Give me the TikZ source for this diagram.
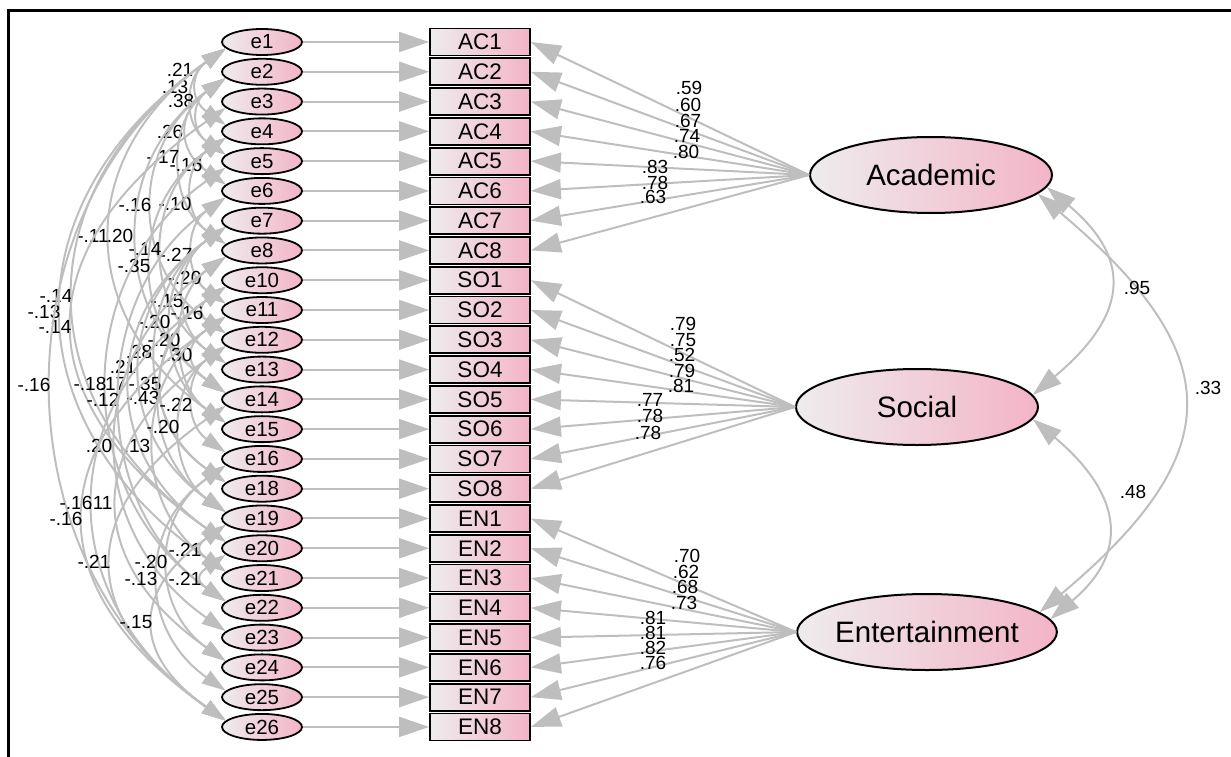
\documentclass[tikz,border=0pt]{standalone}
\usepackage{fontspec}
\setmainfont{Liberation Sans}
\usetikzlibrary{arrows.meta,shapes.geometric}

\definecolor{lnk}{RGB}{190,190,190}
\definecolor{pinkR}{RGB}{243,180,199}
\definecolor{greyL}{RGB}{238,236,237}

\tikzset{
  errnode/.style={ellipse, draw=black, line width=1.8pt, minimum width=80pt,
    minimum height=26pt, inner sep=0pt, left color=greyL, right color=pinkR,
    font=\fontsize{20.5}{20.5}\selectfont},
  obsbox/.style={rectangle, draw=black, line width=1.8pt, minimum width=100pt,
    minimum height=27pt, inner sep=0pt, left color=greyL, right color=pinkR,
    font=\fontsize{22.5}{22.5}\selectfont},
  latent/.style={ellipse, draw=black, line width=2pt, minimum width=242pt,
    minimum height=76pt, inner sep=0pt, left color=greyL, right color=pinkR,
    font=\fontsize{29.5}{29.5}\selectfont},
  regline/.style={draw=lnk, line width=2pt, -{Triangle[length=30pt,width=20pt]}},
  cov/.style={draw=lnk, line width=2pt,
    {Triangle[length=24pt,width=15pt]}-{Triangle[length=24pt,width=15pt]}},
  latcov/.style={draw=lnk, line width=2pt,
    {Triangle[length=29pt,width=19pt]}-{Triangle[length=29pt,width=19pt]}},
  clab/.style={font=\fontsize{19}{19}\selectfont, inner sep=0pt},
}

% covariance between error terms #1 (upper) and #2 (lower),
% with its estimate #5 printed at (#3,#4)
\newcommand\covarc[5]{%
  \pgfmathsetmacro\lsn{(207-#3)/(0.2405*(29.78*(#2-#1)-12.4))}%
  \draw[cov] (k#1.190) to[out=215,in=145,looseness=\lsn] (k#2.170);
  \node[clab] at (#3,-#4) {#5};
}

\begin{document}
\begin{tikzpicture}[x=1pt,y=1pt]
\useasboundingbox (0,0) rectangle (1231,-757);

% frame
\draw[line width=3pt] (8,-760) -- (8,-11) -- (1235,-11);

% error terms and indicators
\foreach \lab [count=\i from 0] in {1,2,3,4,5,6,7,8,10,11,12,13,14,15,16,18,19,20,21,22,23,24,25,26} {
  \node[errnode] (k\i) at (262,{-(42+29.78*\i)}) {e\lab};
}
\foreach \lab [count=\i from 0] in {AC1,AC2,AC3,AC4,AC5,AC6,AC7,AC8,SO1,SO2,SO3,SO4,SO5,SO6,SO7,SO8,EN1,EN2,EN3,EN4,EN5,EN6,EN7,EN8} {
  \node[obsbox] (b\i) at (480,{-(42+29.78*\i)}) {\lab};
  \draw[regline] (k\i.east) -- (b\i.west);
}

% latent factors
\node[latent] (acad) at (931,-175) {Academic};
\node[latent] (soc) at (917,-407) {Social};
\node[latent] (ent) at (927,-632) {Entertainment};

% loadings
\foreach \i in {0,...,7} { \draw[regline] (acad.west) -- (b\i.east); }
\foreach \i in {8,...,15} { \draw[regline] (soc.west) -- (b\i.east); }
\foreach \i in {16,...,23} { \draw[regline] (ent.west) -- (b\i.east); }

\foreach \x/\y/\t in {689/88/.59, 688/105/.60, 688/121/.67, 687/136/.74, 686/152/.80,
  655/167/.83, 655/183/.78, 653/197/.63,
  683/324/.79, 683/340/.75, 682/355/.52, 682/371/.79, 681/386/.81,
  650/400/.77, 650/416/.78, 648/433/.78,
  687/556/.70, 686/572/.62, 685/587/.68, 684/603/.73,
  653/618/.81, 653/633/.81, 653/648/.82, 653/663/.76} {
  \node[clab] at (\x,-\y) {\t};
}

% factor correlations
\draw[latcov] (acad.-6) to[out=-40,in=40,looseness=1.45] (soc.6);
\draw[latcov] (soc.-6) to[out=-40,in=40,looseness=1.4] (ent.6);
\draw[latcov] (acad.-10) to[out=-40,in=40,looseness=1.52] (ent.10);
\node[clab] at (1137,-288) {.95};
\node[clab] at (1133,-492) {.48};
\node[clab] at (1208,-388) {.33};

% error covariances
\covarc{0}{3}{180}{70}{.21}
\covarc{0}{4}{175}{87}{.13}
\covarc{1}{4}{181}{101}{.38}
\covarc{1}{5}{170}{132}{.26}
\covarc{1}{7}{163}{157}{-.17}
\covarc{3}{5}{186}{165}{-.16}
\covarc{1}{10}{135}{205}{-.16}
\covarc{3}{7}{175}{204}{-.10}
\covarc{0}{13}{93}{236}{-.11}
\covarc{1}{12}{120}{236}{.20}
\covarc{3}{11}{145}{249}{-.14}
\covarc{5}{9}{176}{255}{-.27}
\covarc{3}{12}{134}{266}{-.35}
\covarc{7}{9}{185}{278}{-.20}
\covarc{0}{17}{56}{296}{-.14}
\covarc{0}{18}{44}{312}{-.13}
\covarc{2}{17}{55}{327}{-.14}
\covarc{6}{11}{167}{301}{-.15}
\covarc{8}{10}{187}{313}{-.16}
\covarc{6}{13}{154}{322}{-.20}
\covarc{7}{13}{164}{340}{-.20}
\covarc{6}{15}{139}{352}{.28}
\covarc{9}{12}{176}{355}{-.30}
\covarc{6}{16}{123}{367}{.21}
\covarc{0}{23}{34}{385}{-.16}
\covarc{4}{19}{90}{384}{-.18}
\covarc{6}{17}{113}{384}{.17}
\covarc{8}{15}{145}{384}{-.35}
\covarc{5}{19}{103}{400}{-.12}
\covarc{8}{16}{143}{398}{-.43}
\covarc{10}{14}{176}{405}{-.22}
\covarc{10}{16}{163}{427}{-.20}
\covarc{7}{20}{99}{446}{.20}
\covarc{9}{18}{137}{446}{.13}
\covarc{8}{23}{76}{503}{-.16}
\covarc{10}{21}{100}{503}{.11}
\covarc{9}{23}{66}{519}{-.16}
\covarc{12}{23}{94}{562}{-.21}
\covarc{14}{21}{151}{562}{-.20}
\covarc{16}{18}{185}{550}{-.21}
\covarc{14}{22}{141}{579}{-.13}
\covarc{17}{19}{185}{579}{-.21}
\covarc{16}{23}{136}{622}{-.15}

\end{tikzpicture}
\end{document}
